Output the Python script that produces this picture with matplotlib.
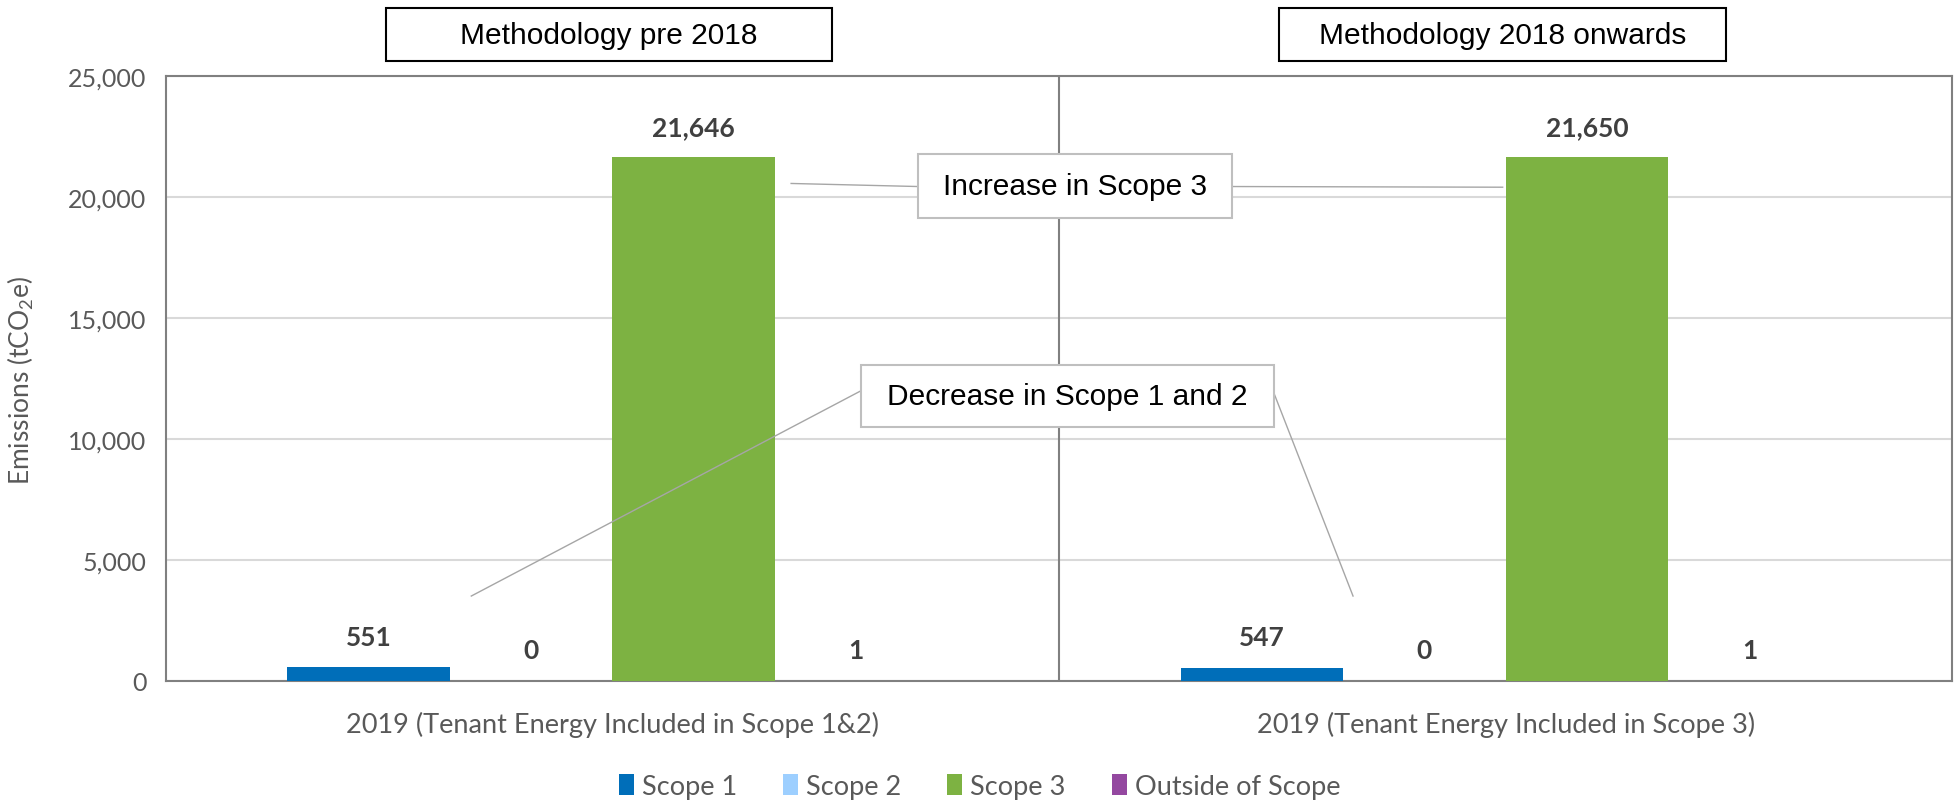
import numpy as np
import matplotlib
matplotlib.use("Agg")
import matplotlib.pyplot as plt
from matplotlib.patches import Rectangle

plt.rcParams['font.family'] = ['Lato', 'DejaVu Sans']
plt.rcParams['mathtext.default'] = 'regular'

# data
categories = ['2019 (Tenant Energy Included in Scope 1&2)',
              '2019 (Tenant Energy Included in Scope 3)']
series = ['Scope 1', 'Scope 2', 'Scope 3', 'Outside of Scope']
scope1 = [551, 547]
scope2 = [0, 0]
scope3 = [21646, 21650]
outside = [1, 1]
panel_titles = ['Methodology pre 2018', 'Methodology 2018 onwards']
yticks = [0, 5000, 10000, 15000, 20000, 25000]

colors = ['#006EB9', '#9DCFFF', '#7DB242', '#9448A0']
label_col = '#404040'
tick_col = '#595959'
note_font = ['Liberation Sans', 'DejaVu Sans']

fig = plt.figure(figsize=(19.55, 8.04), dpi=100)
ax = fig.add_axes([0.0848, 0.152, 0.9139, 0.7519])

x = np.arange(len(categories))
width = 0.182
values = [scope1, scope2, scope3, outside]
for i, (name, vals) in enumerate(zip(series, values)):
    pos = x + (i - 1.5) * width
    ax.bar(pos, vals, width, color=colors[i], label=name, zorder=3)
    for p, v in zip(pos, vals):
        ax.annotate(f'{v:,}', (p, v), xytext=(0, 22), textcoords='offset points',
                    ha='center', va='center', fontsize=19, fontweight='bold',
                    color=label_col, zorder=5)

ax.set_xlim(-0.5, 1.5)
ax.set_ylim(0, 25000)
ax.set_yticks(yticks)
ax.set_yticklabels([f'{t:,}' for t in yticks])
ax.set_xticks(x)
ax.set_xticklabels(categories)
ax.tick_params(axis='y', length=0, pad=14, labelsize=18, labelcolor=tick_col)
ax.tick_params(axis='x', length=0, pad=22, labelsize=19.5, labelcolor=tick_col)
ax.grid(axis='y', color='#d9d9d9', linewidth=1.5, zorder=0)
for s in ax.spines.values():
    s.set_color('#808080')
    s.set_linewidth(1.5)
ax.axvline(0.5, color='#808080', linewidth=1.5, zorder=2)

fig.text(0.0105, 0.527, 'Emissions (tCO$_2$e)', rotation=90, ha='center',
         va='center', fontsize=19, color=tick_col)

# panel titles above each half
for xc, t in zip(x, panel_titles):
    ax.add_patch(Rectangle((xc - 0.254, 1.025), 0.5, 0.088,
                           transform=ax.get_xaxis_transform(), clip_on=False,
                           facecolor='white', edgecolor='black', linewidth=1.5))
    ax.text(xc - 0.004, 1.069, t, transform=ax.get_xaxis_transform(),
            ha='center', va='center', fontsize=21.5, family=note_font)

# callouts
line_kw = dict(color='#a6a6a6', linewidth=1.0, zorder=4)
box_kw = dict(facecolor='white', edgecolor='#bfbfbf', linewidth=1.5, zorder=6)

ax.plot([0.2, 0.342], [20567, 20440], **line_kw)
ax.plot([0.694, 0.9965], [20440, 20412], **line_kw)
ax.add_patch(Rectangle((0.342, 19124), 0.352, 2680, **box_kw))
ax.text(0.518, 20464, 'Increase in Scope 3', ha='center', va='center',
        fontsize=21.5, family=note_font, zorder=7)

ax.plot([-0.158, 0.278], [3505, 11990], **line_kw)
ax.plot([0.740, 0.829], [11940, 3505], **line_kw)
ax.add_patch(Rectangle((0.278, 10515), 0.462, 2526, **box_kw))
ax.text(0.509, 11778, 'Decrease in Scope 1 and 2', ha='center', va='center',
        fontsize=21.5, family=note_font, zorder=7)

leg = fig.legend(loc='center', bbox_to_anchor=(0.501, 0.021), ncol=4,
                 frameon=False, fontsize=19.5, handlelength=0.55, handleheight=0.85,
                 handletextpad=0.3, columnspacing=1.7)
for t in leg.get_texts():
    t.set_color(tick_col)

fig.savefig('out.png', dpi=100)
